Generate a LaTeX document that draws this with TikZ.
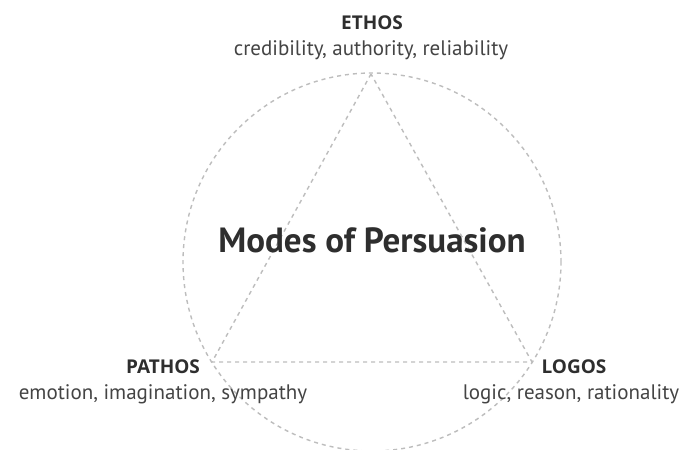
\documentclass[tikz,border=0pt]{standalone}
\usepackage{fontspec}
\setmainfont{PT Sans}
\newfontfamily\headfont{Open Sans}
\usetikzlibrary{calc}
\definecolor{linegray}{HTML}{BDBDBD}
\definecolor{headgray}{HTML}{2E2E2E}
\definecolor{textgray}{HTML}{444444}
\tikzset{
  guide/.style={draw=linegray, line width=1.4pt, dash pattern=on 4pt off 4pt},
  head/.style={anchor=base, inner sep=0pt, text=headgray, font=\headfont\fontsize{19}{19}\selectfont\bfseries},
  desc/.style={anchor=base, inner sep=0pt, text=textgray, font=\fontsize{21}{21}\selectfont},
  title/.style={anchor=base, inner sep=0pt, text=headgray, font=\fontsize{35}{35}\selectfont\bfseries}
}
\begin{document}
\begin{tikzpicture}[x=1pt, y=-1pt]
\useasboundingbox[fill=white] (0,0) rectangle (686,450);
\coordinate (C) at (372,262);
\coordinate (E) at (371,74);
\coordinate (P) at (212,362);
\coordinate (L) at (532,362);
\draw[guide] (C) circle[radius=189pt];
\draw[guide] (E) -- (P) -- (L) -- cycle;
\node[title] (mt) at (372,252) {Modes of Persuasion};
\node[head] (eh) at (372,29.5) {ETHOS};
\node[desc] (ed) at (371,55) {credibility, authority, reliability};
\node[head] (ph) at (163,373.5) {PATHOS};
\node[desc] (pd) at (163,399.5) {emotion, imagination, sympathy};
\node[head] (lh) at (574,373.5) {LOGOS};
\node[desc] (ld) at (571,399.5) {logic, reason, rationality};
\end{tikzpicture}
\end{document}
